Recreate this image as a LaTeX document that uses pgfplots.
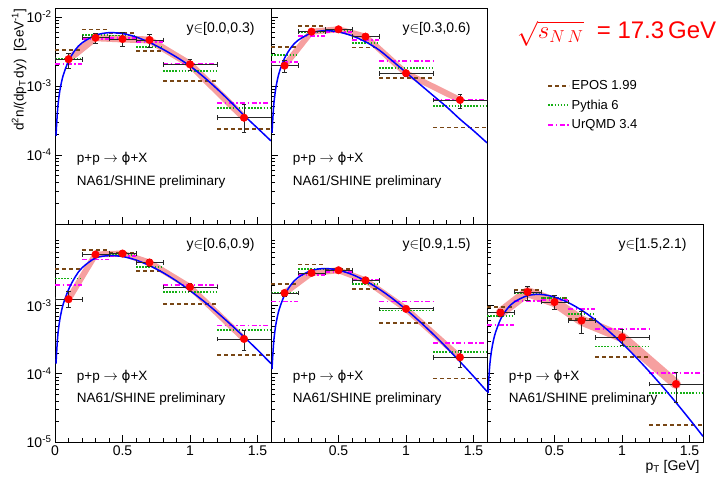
\documentclass[border=0pt]{standalone}
\usepackage{fontspec}
\setmainfont{Liberation Sans}
\newfontfamily\dejavu{DejaVu Sans}
\usepackage{pgfplots}
\usepackage{pgfplotstable}
\pgfplotsset{compat=1.18}

\definecolor{epos}{RGB}{120,70,20}
\definecolor{pyth}{RGB}{20,175,20}
\definecolor{urqmd}{RGB}{255,0,255}
\definecolor{band}{RGB}{246,160,160}
\definecolor{fitblue}{RGB}{0,0,255}
\newcommand\fs[1]{\fontsize{#1}{#1}\selectfont}

% ---- measured points: x, half bin width, value, stat errors
\pgfplotstableread{
x ex y eyp eym
0.1 0.1 2.44e-3 0.56e-3 0.62e-3
0.3 0.1 5.00e-3 0.86e-3 0.84e-3
0.5 0.1 4.80e-3 1.20e-3 1.00e-3
0.7 0.1 4.64e-3 0.86e-3 1.04e-3
1.0 0.2 2.06e-3 0.34e-3 0.39e-3
1.4 0.2 3.47e-4 2.00e-4 1.37e-4
}\dataA
\pgfplotstableread{
x ex y eyp eym
0.1 0.1 1.97e-3 0.41e-3 0.41e-3
0.3 0.1 6.12e-3 0.50e-3 0.50e-3
0.5 0.1 6.62e-3 0.50e-3 0.50e-3
0.7 0.1 5.19e-3 0.40e-3 0.40e-3
1.0 0.2 1.53e-3 0.15e-3 0.15e-3
1.4 0.2 6.27e-4 1.40e-4 1.50e-4
}\dataB
\pgfplotstableread{
x ex y eyp eym
0.1 0.1 1.23e-3 0.40e-3 0.30e-3
0.3 0.1 5.57e-3 0.40e-3 0.40e-3
0.5 0.1 5.75e-3 0.50e-3 0.60e-3
0.7 0.1 4.25e-3 0.50e-3 0.50e-3
1.0 0.2 1.86e-3 0.25e-3 0.25e-3
1.4 0.2 3.23e-4 1.07e-4 1.00e-4
}\dataC
\pgfplotstableread{
x ex y eyp eym
0.1 0.1 1.52e-3 0.15e-3 0.15e-3
0.3 0.1 2.99e-3 0.20e-3 0.20e-3
0.5 0.1 3.27e-3 0.20e-3 0.20e-3
0.7 0.1 2.33e-3 0.20e-3 0.20e-3
1.0 0.2 8.90e-4 0.80e-4 0.80e-4
1.4 0.2 1.74e-4 0.46e-4 0.50e-4
}\dataD
\pgfplotstableread{
x ex y eyp eym
0.1 0.1 7.80e-4 1.00e-4 1.00e-4
0.3 0.1 1.57e-3 0.33e-3 0.38e-3
0.5 0.1 1.12e-3 0.28e-3 0.26e-3
0.7 0.1 6.00e-4 2.30e-4 2.10e-4
1.0 0.2 3.42e-4 1.08e-4 0.84e-4
1.4 0.2 7.06e-5 3.44e-5 3.26e-5
}\dataE

% ---- model histograms (bin left edges; last row closes the last bin)
\pgfplotstableread{
x E P U
0   3.33e-3 2.46e-3 2.06e-3
0.2 6.60e-3 5.55e-3 4.80e-3
0.4 5.80e-3 5.40e-3 5.00e-3
0.6 3.25e-3 3.70e-3 4.30e-3
0.8 1.19e-3 1.67e-3 2.06e-3
1.2 2.38e-4 4.74e-4 5.60e-4
1.6 2.38e-4 4.74e-4 5.60e-4
}\modA
\pgfplotstableread{
x E P U
0   3.71e-3 2.81e-3 2.25e-3
0.2 7.49e-3 6.10e-3 5.37e-3
0.4 6.60e-3 6.20e-3 6.00e-3
0.6 3.60e-3 4.15e-3 4.64e-3
0.8 1.29e-3 1.80e-3 2.30e-3
1.2 2.50e-4 5.13e-4 6.27e-4
1.6 2.50e-4 5.13e-4 6.27e-4
}\modB
\pgfplotstableread{
x E P U
0   3.38e-3 2.47e-3 1.97e-3
0.2 6.45e-3 5.57e-3 4.70e-3
0.4 5.90e-3 5.50e-3 5.30e-3
0.6 3.16e-3 3.66e-3 4.25e-3
0.8 1.06e-3 1.57e-3 1.97e-3
1.2 1.88e-4 4.40e-4 5.08e-4
1.6 1.88e-4 4.40e-4 5.08e-4
}\modC
\pgfplotstableread{
x E P U
0   2.04e-3 1.54e-3 1.14e-3
0.2 3.97e-3 3.39e-3 2.76e-3
0.4 3.40e-3 3.25e-3 3.10e-3
0.6 1.76e-3 2.04e-3 2.33e-3
0.8 5.60e-4 8.40e-4 1.14e-3
1.2 8.50e-5 2.06e-4 2.82e-4
1.6 8.50e-5 2.06e-4 2.82e-4
}\modD
\pgfplotstableread{
x E P U
0   9.45e-4 7.00e-4 5.10e-4
0.2 1.66e-3 1.54e-3 1.15e-3
0.4 1.30e-3 1.30e-3 1.20e-3
0.6 6.40e-4 7.50e-4 8.90e-4
0.8 1.74e-4 2.50e-4 4.50e-4
1.2 1.78e-5 5.20e-5 1.02e-4
1.6 1.78e-5 5.20e-5 1.02e-4
}\modE

% ---- fit curves
\pgfplotstableread{
x A B C D E
0.008 1.90e-4 2.10e-4 1.40e-4 1.17e-4 5.20e-5
0.01 2.37e-4 2.60e-4 1.75e-4 1.46e-4 6.50e-5
0.02 4.74e-4 5.20e-4 3.50e-4 2.92e-4 1.30e-4
0.03 7.10e-4 7.80e-4 5.20e-4 4.37e-4 1.94e-4
0.04 9.48e-4 1.04e-3 6.90e-4 5.83e-4 2.59e-4
0.06 1.41e-3 1.55e-3 1.03e-3 8.67e-4 3.84e-4
0.1 2.30e-3 2.52e-3 1.70e-3 1.41e-3 6.24e-4
0.15 3.33e-3 3.64e-3 2.62e-3 2.03e-3 8.93e-4
0.2 4.21e-3 4.59e-3 3.55e-3 2.56e-3 1.115e-3
0.3 5.44e-3 5.88e-3 4.95e-3 3.25e-3 1.393e-3
0.4 5.92e-3 6.34e-3 5.35e-3 3.47e-3 1.448e-3
0.5 5.75e-3 6.07e-3 5.20e-3 3.28e-3 1.326e-3
0.6 5.13e-3 5.34e-3 4.62e-3 2.84e-3 1.105e-3
0.7 4.28e-3 4.37e-3 3.83e-3 2.29e-3 8.53e-4
0.8 3.40e-3 3.33e-3 3.02e-3 1.74e-3 6.18e-4
0.9 2.62e-3 2.30e-3 2.28e-3 1.26e-3 4.24e-4
1.0 1.95e-3 1.57e-3 1.65e-3 8.73e-4 2.79e-4
1.1 1.36e-3 1.07e-3 1.16e-3 5.85e-4 1.77e-4
1.2 9.10e-4 7.30e-4 7.93e-4 3.82e-4 1.085e-4
1.3 5.90e-4 5.00e-4 5.29e-4 2.42e-4 6.48e-5
1.4 3.75e-4 3.30e-4 3.46e-4 1.50e-4 3.78e-5
1.5 2.45e-4 2.25e-4 2.23e-4 9.15e-5 2.16e-5
1.6 1.60e-4 1.50e-4 1.41e-4 5.49e-5 1.21e-5
}\fits

\pgfplotsset{
  every axis/.append style={
    scale only axis, width=216pt,
    xmin=0, xmax=1.6, ymin=1e-5,
    xtick={0,0.5,1,1.5}, minor x tick num=4,
    minor ytick={2e-5,3e-5,4e-5,5e-5,6e-5,7e-5,8e-5,9e-5,2e-4,3e-4,4e-4,5e-4,6e-4,7e-4,8e-4,9e-4,2e-3,3e-3,4e-3,5e-3,6e-3,7e-3,8e-3,9e-3},
    tick align=inside, tick pos=left,
    major tick length=7pt, minor tick length=4pt,
    tick style={black, line width=0.6pt},
    axis line style={line width=0.8pt},
    ticklabel style={font=\fs{14}},
    clip=true},
  bandline/.style={draw=band, line width=#1, line join=round, line cap=round, no marks, forget plot},
  eposline/.style={draw=epos, line width=1.8pt, dash pattern=on 4pt off 3pt, jump mark left, no marks},
  pythline/.style={draw=pyth, line width=1.8pt, dash pattern=on 1.5pt off 1.6pt, jump mark left, no marks},
  urqmdline/.style={draw=urqmd, line width=1.8pt, dash pattern=on 5pt off 2.5pt on 1.5pt off 2.5pt, jump mark left, no marks},
  fitline/.style={draw=fitblue, line width=1.5pt, smooth, no marks, forget plot},
  datapts/.style={only marks, mark=*, mark size=3.8pt, color=red, forget plot,
    error bars/x dir=both, error bars/x explicit,
    error bars/y dir=both, error bars/y explicit,
    error bars/error bar style={black!85, line width=0.8pt},
    error bars/error mark options={rotate=90, black!85, mark size=2.3pt, line width=0.8pt}},
}

\newcommand\drawpanel[5]{% data, models, fit column, band width, label
  \addplot[bandline=#4] table[x=x,y=y]{#1};
  \addplot[eposline, forget plot] table[x=x,y=E]{#2};
  \addplot[pythline, forget plot] table[x=x,y=P]{#2};
  \addplot[urqmdline, forget plot] table[x=x,y=U]{#2};
  \addplot[fitline] table[x=x,y=#3]{\fits};
  \addplot[datapts] table[x=x,y=y,x error=ex,y error plus=eyp,y error minus=eym]{#1};
  \node[anchor=east, font=\fs{14}] at (rel axis cs:0.94,0.905) {y$\in$[#5)};
  \node[anchor=west, font=\fs{13.5}] at (rel axis cs:0.085,0.30) {p+p $\rightarrow$ {\dejavu ϕ}+X};
  \node[anchor=west, font=\fs{13.5}] at (rel axis cs:0.085,0.195) {NA61/SHINE preliminary};
}

\begin{document}
\begin{tikzpicture}
\useasboundingbox (0,0) rectangle (719pt,476pt);

% top left
\begin{semilogyaxis}[at={(55pt,252pt)}, anchor=south west, height=216pt, ymax=0.01349,
  xticklabels={},
  ytick={1e-4,1e-3,1e-2},
  yticklabels={10\textsuperscript{-4},10\textsuperscript{-3},10\textsuperscript{-2}}]
\drawpanel{\dataA}{\modA}{A}{7pt}{0.0,0.3}
\end{semilogyaxis}

% top middle, carries the legend
\begin{semilogyaxis}[at={(271pt,252pt)}, anchor=south west, height=216pt, ymax=0.01349,
  xticklabels={},
  ytick={1e-4,1e-3,1e-2}, yticklabels={},
  legend style={at={(1.265,0.68)}, anchor=north west, draw=none, fill=none,
    font=\fs{13}, row sep=5.5pt, nodes={inner sep=1.5pt}},
  legend cell align=left,
  legend image code/.code={\draw[#1] (0pt,0pt) -- (21pt,0pt);}]
\addplot[bandline=6pt] table[x=x,y=y]{\dataB};
\addplot[eposline] table[x=x,y=E]{\modB};
\addlegendentry{EPOS 1.99}
\addplot[pythline] table[x=x,y=P]{\modB};
\addlegendentry{Pythia 6}
\addplot[urqmdline] table[x=x,y=U]{\modB};
\addlegendentry{UrQMD 3.4}
\addplot[fitline] table[x=x,y=B]{\fits};
\addplot[datapts] table[x=x,y=y,x error=ex,y error plus=eyp,y error minus=eym]{\dataB};
\node[anchor=east, font=\fs{14}] at (rel axis cs:0.94,0.905) {y$\in$[0.3,0.6)};
\node[anchor=west, font=\fs{13.5}] at (rel axis cs:0.085,0.30) {p+p $\rightarrow$ {\dejavu ϕ}+X};
\node[anchor=west, font=\fs{13.5}] at (rel axis cs:0.085,0.195) {NA61/SHINE preliminary};
\end{semilogyaxis}

% bottom row
\begin{semilogyaxis}[at={(55pt,34pt)}, anchor=south west, height=218pt, ymax=0.01556,
  ytick={1e-5,1e-4,1e-3},
  yticklabels={10\textsuperscript{-5},10\textsuperscript{-4},10\textsuperscript{-3}},
  xticklabels={0,0.5,1,1.5}]
\drawpanel{\dataC}{\modC}{C}{6pt}{0.6,0.9}
\end{semilogyaxis}

\begin{semilogyaxis}[at={(271pt,34pt)}, anchor=south west, height=218pt, ymax=0.01556,
  ytick={1e-5,1e-4,1e-3}, yticklabels={},
  xticklabels={,0.5,1,1.5}]
\drawpanel{\dataD}{\modD}{D}{6pt}{0.9,1.5}
\end{semilogyaxis}

\begin{semilogyaxis}[at={(487pt,34pt)}, anchor=south west, height=218pt, ymax=0.01556,
  ytick={1e-5,1e-4,1e-3}, yticklabels={},
  xticklabels={,0.5,1,1.5}]
\drawpanel{\dataE}{\modE}{E}{10pt}{1.5,2.1}
\end{semilogyaxis}

% titles and axis labels
\node[rotate=90, anchor=east, font=\fs{13.5}] at (19pt,471pt)
  {d\textsuperscript{2}n/(dp\textsubscript{T}\,dy)\ \ [GeV\textsuperscript{-1}]};
\node[anchor=east, font=\fs{14}] at (703pt,9pt) {p\textsubscript{T} [GeV]};
\node[anchor=base west, red, font=\fs{24}, inner sep=1pt] at (516pt,437.5pt) {$\sqrt{s_{N\,N}}$\; = 17.3\,GeV};
\end{tikzpicture}
\end{document}
